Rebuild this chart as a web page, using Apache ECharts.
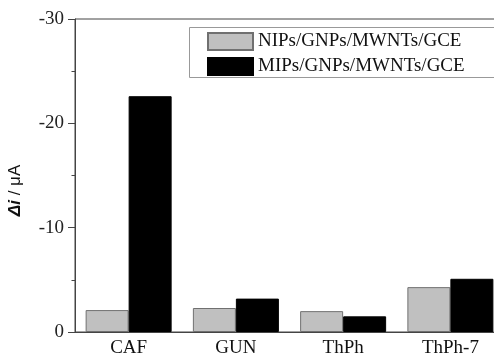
<!DOCTYPE html>
<html>
<head>
<meta charset="utf-8">
<script src="https://cdn.jsdelivr.net/npm/echarts@6/dist/echarts.min.js"></script>
<style>html,body{margin:0;padding:0;background:#fff}#c{width:494px;height:358px}</style>
</head>
<body>
<div id="c"></div>
<script>
const categories = ['CAF', 'GUN', 'ThPh', 'ThPh-7'];
const nipsValues = [-2.1, -2.3, -2.0, -4.3];
const mipsValues = [-22.6, -3.2, -1.5, -5.1];
const seriesNames = ['NIPs/GNPs/MWNTs/GCE', 'MIPs/GNPs/MWNTs/GCE'];
const yTicks = { min: -30, max: 0, interval: 10 };

const FONT = '"Liberation Serif", "Times New Roman", serif';
const SANS = '"Liberation Sans", Arial, sans-serif';
const AX = '#444';
const chart = echarts.init(document.getElementById('c'), null, { renderer: 'canvas' });
chart.setOption({
  animation: false,
  backgroundColor: '#fff',
  textStyle: { fontFamily: FONT },
  grid: { left: 75, top: 19, bottom: 26, width: 429, outerBoundsMode: 'none', containLabel: false,
          show: true, borderColor: AX, borderWidth: 1, backgroundColor: 'transparent' },
  graphic: [{
    type: 'rect', z: 1, silent: true,
    shape: { x: 189.5, y: 27.5, width: 360, height: 50 },
    style: { fill: '#fff', stroke: '#999', lineWidth: 1 }
  }],
  legend: {
    orient: 'vertical', left: 189, top: 27,
    icon: 'rect',
    itemWidth: 45, itemHeight: 17, itemGap: 6,
    padding: [5, 10, 3, 18],
    borderWidth: 0, backgroundColor: 'transparent',
    textStyle: { fontFamily: FONT, fontSize: 19, color: '#111' },
    data: seriesNames
  },
  xAxis: {
    type: 'category', data: categories,
    axisLine: { lineStyle: { color: AX, width: 1 } },
    axisTick: { show: false },
    axisLabel: { fontFamily: FONT, fontSize: 19, color: '#111', margin: 7 }
  },
  yAxis: {
    type: 'value', inverse: true,
    min: yTicks.min, max: yTicks.max, interval: yTicks.interval,
    name: '{b|Δ}{i|i}{n| / μA}',
    nameLocation: 'middle', nameRotate: 90, nameGap: 51,
    nameTextStyle: {
      padding: [0, 30, 0, 0],
      rich: {
        b: { fontFamily: SANS, fontSize: 17, fontWeight: 'bold', fontStyle: 'italic', color: '#111' },
        i: { fontFamily: SANS, fontSize: 17, fontWeight: 'bold', fontStyle: 'italic', color: '#111' },
        n: { fontFamily: SANS, fontSize: 17, color: '#111' }
      }
    },
    axisLine: { show: true, lineStyle: { color: AX, width: 1 } },
    axisTick: { show: true, length: 7, lineStyle: { color: AX } },
    minorTick: { show: true, splitNumber: 2, length: 3.5, lineStyle: { color: AX } },
    splitLine: { show: false },
    axisLabel: { fontFamily: FONT, fontSize: 19, color: '#222', margin: 11 }
  },
  series: [
    { name: seriesNames[0], type: 'bar', data: nipsValues, barWidth: 43, barGap: '0%',
      itemStyle: { color: '#c0c0c0', borderColor: '#707070', borderWidth: 1 } },
    { name: seriesNames[1], type: 'bar', data: mipsValues, barWidth: 43, barGap: '0%',
      itemStyle: { color: '#000', borderColor: '#000', borderWidth: 1 } }
  ]
});
</script>
</body>
</html>
